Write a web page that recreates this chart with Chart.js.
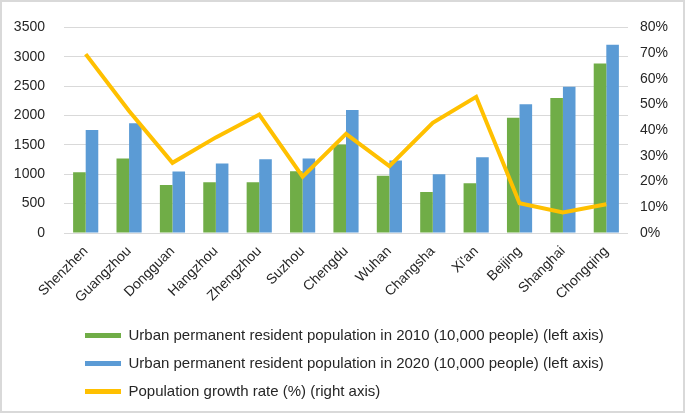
<!DOCTYPE html>
<html>
<head>
<meta charset="utf-8">
<script src="https://cdn.jsdelivr.net/npm/chart.js@4.4.1/dist/chart.umd.min.js"></script>
<style>
  html, body { margin: 0; padding: 0; background: #fff; }
  #wrap { position: relative; width: 685px; height: 413px; }
  #frame { position: absolute; left: 0; top: 0; width: 685px; height: 413px; box-sizing: border-box; border: 2px solid #d9d9d9; pointer-events: none; }
</style>
</head>
<body>
<div id="wrap">
  <canvas id="popChart" width="685" height="413"></canvas>
  <div id="frame"></div>
</div>
<script>
/* city population chart: 2010 vs 2020 bars + growth rate line */

const cities = ['Shenzhen', 'Guangzhou', 'Dongguan', 'Hangzhou', 'Zhengzhou', 'Suzhou', 'Chengdu',
  'Wuhan', 'Changsha', "Xi'an", 'Beijing', 'Shanghai', 'Chongqing'];
const pop2010 = [1035, 1270, 815, 865, 862, 1050, 1505, 975, 700, 845, 1960, 2300, 2885];
const pop2020 = [1755, 1870, 1045, 1185, 1255, 1270, 2095, 1235, 1000, 1290, 2190, 2488, 3205];
const growthRate = [69.6, 47.5, 27.3, 37.2, 46.1, 21.9, 38.6, 26.0, 42.9, 53.0, 11.6, 8.0, 11.2];

const leftTicks = { min: 0, max: 3500, step: 500 };
const rightTicks = { min: 0, max: 80, step: 10 };

const seriesNames = [
  'Urban permanent resident population in 2010 (10,000 people) (left axis)',
  'Urban permanent resident population in 2020 (10,000 people) (left axis)',
  'Population growth rate (%) (right axis)'
];

const FONT = { family: "'Liberation Sans', Arial, sans-serif", size: 14 };
const LEGEND_FONT = { family: "'Liberation Sans', Arial, sans-serif", size: 15 };
const TEXT = '#262626';

// nudge legend so its rows start under the plot, like the original
const legendShift = {
  id: 'legendShift',
  afterLayout(chart) {
    if (chart.legend) chart.legend.left = 72;
  }
};

const canvas = document.getElementById('popChart');

new Chart(canvas, {
  data: {
    labels: cities,
    datasets: [
      {
        type: 'line',
        label: seriesNames[2],
        data: growthRate,
        yAxisID: 'yR',
        borderColor: '#FFC000',
        backgroundColor: '#FFC000',
        borderWidth: 4,
        pointRadius: 0,
        tension: 0,
        order: 0
      },
      {
        type: 'bar',
        label: seriesNames[0],
        data: pop2010,
        yAxisID: 'y',
        backgroundColor: '#70AD47',
        categoryPercentage: 0.58,
        barPercentage: 1,
        order: 1
      },
      {
        type: 'bar',
        label: seriesNames[1],
        data: pop2020,
        yAxisID: 'y',
        backgroundColor: '#5B9BD5',
        categoryPercentage: 0.58,
        barPercentage: 1,
        order: 1
      }
    ]
  },
  options: {
    responsive: false,
    animation: false,
    layout: { padding: { left: 8, right: 14, top: 22, bottom: 4 } },
    scales: {
      x: {
        grid: { display: false },
        border: { display: false },
        ticks: { font: FONT, color: TEXT, minRotation: 45, maxRotation: 45, padding: 2 },
        afterFit: s => { s.height = 82; }
      },
      y: {
        position: 'left',
        min: leftTicks.min, max: leftTicks.max,
        grid: { color: '#d9d9d9', drawTicks: false },
        border: { display: false },
        ticks: { stepSize: leftTicks.step, font: FONT, color: TEXT, padding: 19, callback: v => String(v) },
        afterFit: s => { s.width = 56; }
      },
      yR: {
        position: 'right',
        min: rightTicks.min, max: rightTicks.max,
        grid: { display: false, drawTicks: false },
        border: { display: false },
        ticks: { stepSize: rightTicks.step, font: FONT, color: TEXT, padding: 12, callback: v => v + '%' },
        afterFit: s => { s.width = 43; }
      }
    },
    plugins: {
      tooltip: { enabled: false },
      legend: {
        position: 'bottom',
        align: 'start',
        labels: {
          font: LEGEND_FONT,
          color: TEXT,
          boxWidth: 36,
          boxHeight: 5,
          padding: 13,
          sort: (a, b) => {
            const rank = [2, 0, 1];
            return rank[a.datasetIndex] - rank[b.datasetIndex];
          },
          generateLabels: chart => Chart.defaults.plugins.legend.labels.generateLabels(chart)
            .map(l => Object.assign(l, { lineWidth: 0 }))
        }
      }
    }
  },
  plugins: [legendShift]
});
</script>
</body>
</html>
